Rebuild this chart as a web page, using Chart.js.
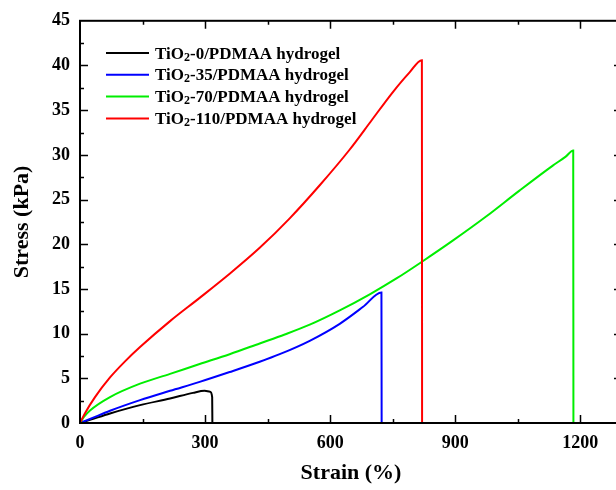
<!DOCTYPE html>
<html>
<head>
<meta charset="utf-8">
<script src="https://cdn.jsdelivr.net/npm/chart.js@4.4.0/dist/chart.umd.min.js"></script>
<style>
  html, body { margin: 0; padding: 0; background: #fff; overflow: hidden; }
  #wrap { width: 630px; height: 490px; }
</style>
</head>
<body>
<div id="wrap"><canvas id="grafica" width="630" height="490"></canvas></div>
<script>
/* datos: deformacion (%) y esfuerzo (kPa) */
const strain0 = [0, 24, 72, 144, 216, 271, 299, 312, 317, 317.5];
const stress0 = [0, 0.35, 1.07, 2.0, 2.74, 3.37, 3.6, 3.5, 2.9, 0];

const strain35 = [0, 24, 72, 144, 216, 287, 359, 431, 479, 551, 623, 679, 723, 723.5];
const stress35 = [0, 0.45, 1.37, 2.56, 3.6, 4.6, 5.7, 6.85, 7.7, 9.2, 11.1, 13.0, 14.6, 0];

const strain70 = [0, 10, 24, 72, 144, 216, 287, 359, 431, 491, 551, 623, 695, 760, 822, 894, 974, 1054, 1134, 1165, 1183, 1183.5];
const stress70 = [0, 0.7, 1.4, 2.9, 4.4, 5.5, 6.6, 7.7, 8.9, 9.9, 11.0, 12.6, 14.4, 16.2, 18.1, 20.4, 23.1, 26.0, 28.8, 29.8, 30.5, 0];

const strain110 = [0, 12, 36, 72, 108, 144, 216, 287, 359, 431, 503, 575, 647, 700, 750, 790, 820, 820.5];
const stress110 = [0, 1.1, 2.9, 5.1, 6.9, 8.5, 11.4, 14.0, 16.7, 19.6, 22.9, 26.6, 30.6, 33.9, 37.0, 39.2, 40.6, 0];

const seriesNames = ["0", "35", "70", "110"];
const seriesColors = ["#000000", "#0000ff", "#00ee00", "#ff0000"];

const xTicks = [0, 300, 600, 900, 1200];
const yTicks = [0, 5, 10, 15, 20, 25, 30, 35, 40, 45];
const xMax = 1300;
const yMax = 45;
const xMinorStep = 150;
const yMinorStep = 2.5;

const serif = "'Liberation Serif', 'Times New Roman', serif";
Chart.defaults.font.family = serif;

const toPoints = (xs, ys) => xs.map((v, i) => ({ x: v, y: ys[i] }));

const allStrain = [strain0, strain35, strain70, strain110];
const allStress = [stress0, stress35, stress70, stress110];

const datasets = seriesNames.map((n, i) => ({
  label: "TiO2-" + n + "/PDMAA hydrogel",
  data: toPoints(allStrain[i], allStress[i]),
  borderColor: seriesColors[i],
  borderWidth: 2,
  pointRadius: 0,
  fill: false,
  cubicInterpolationMode: "monotone",
  order: 3 - i,
}));

/* marco, ticks hacia adentro y leyenda */
const marcoPlugin = {
  id: "marco",
  afterDatasetsDraw(chart) {
    const { ctx, chartArea: a, scales: { x, y } } = chart;
    ctx.save();
    ctx.strokeStyle = "#000";
    ctx.lineWidth = 1.5;
    ctx.beginPath();
    for (let v = xMinorStep; v < xMax; v += xMinorStep) {
      const px = Math.round(x.getPixelForValue(v)) + 0.5;
      const len = v % 300 === 0 ? 8 : 4;
      ctx.moveTo(px, a.bottom); ctx.lineTo(px, a.bottom - len);
      ctx.moveTo(px, a.top); ctx.lineTo(px, a.top + len);
    }
    for (let v = yMinorStep; v < yMax; v += yMinorStep) {
      const py = Math.round(y.getPixelForValue(v)) + 0.5;
      const len = v % 5 === 0 ? 8 : 4;
      ctx.moveTo(a.left, py); ctx.lineTo(a.left + len, py);
      ctx.moveTo(a.right, py); ctx.lineTo(a.right - len, py);
    }
    ctx.stroke();
    ctx.lineWidth = 2;
    ctx.strokeRect(a.left, a.top, a.right - a.left, a.bottom - a.top);

    // leyenda
    const big = "bold 17px " + serif;
    const small = "bold 12px " + serif;
    seriesNames.forEach((n, i) => {
      const ly = 53 + i * 21.8;
      ctx.strokeStyle = seriesColors[i];
      ctx.lineWidth = 2;
      ctx.beginPath();
      ctx.moveTo(106, ly);
      ctx.lineTo(149, ly);
      ctx.stroke();
      ctx.fillStyle = "#000";
      ctx.textBaseline = "alphabetic";
      ctx.textAlign = "left";
      let tx = 155;
      const by = ly + 5.5;
      ctx.font = big;
      ctx.fillText("TiO", tx, by);
      tx += ctx.measureText("TiO").width;
      ctx.font = small;
      ctx.fillText("2", tx, by + 2);
      tx += ctx.measureText("2").width;
      ctx.font = big;
      ctx.fillText("-" + n + "/PDMAA hydrogel", tx, by);
    });
    ctx.restore();
  },
};

const grafica = new Chart(document.getElementById("grafica").getContext("2d"), {
  type: "line",
  data: { datasets },
  options: {
    responsive: false,
    animation: false,
    devicePixelRatio: 1,
    layout: { padding: { top: 18, right: 8, bottom: 0, left: 0 } },
    plugins: {
      legend: { display: false },
      tooltip: { enabled: false },
    },
    scales: {
      x: {
        type: "linear",
        min: 0,
        max: xMax,
        grid: { display: false, drawTicks: false },
        border: { display: false },
        afterBuildTicks: (s) => { s.ticks = xTicks.map((v) => ({ value: v })); },
        afterFit: (s) => { s.height = 67; },
        ticks: {
          color: "#000",
          padding: 10,
          maxRotation: 0,
          font: { size: 18, weight: "bold" },
          callback: (v) => String(v),
        },
        title: {
          display: true,
          text: "Strain (%)",
          color: "#000",
          padding: { top: 0, bottom: 3 },
          font: { size: 22, weight: "bold" },
        },
      },
      y: {
        type: "linear",
        min: 0,
        max: yMax,
        grid: { display: false, drawTicks: false },
        border: { display: false },
        afterBuildTicks: (s) => { s.ticks = yTicks.map((v) => ({ value: v })); },
        afterFit: (s) => { s.width = 80; },
        ticks: {
          color: "#000",
          padding: 10,
          font: { size: 18, weight: "bold" },
          callback: (v) => String(v),
        },
        title: {
          display: true,
          text: "Stress (kPa)",
          color: "#000",
          padding: { top: 9, bottom: 0 },
          font: { size: 22, weight: "bold" },
        },
      },
    },
  },
  plugins: [marcoPlugin],
});
</script>
</body>
</html>
